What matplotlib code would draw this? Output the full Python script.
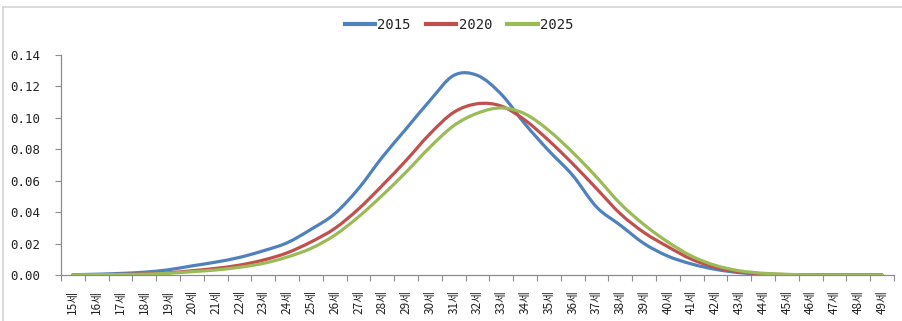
import numpy as np
import matplotlib
matplotlib.use("Agg")
import matplotlib.pyplot as plt
from matplotlib.path import Path
from matplotlib.patches import PathPatch
from matplotlib.lines import Line2D

# Age categories and density of births by mother's age
ages = list(range(15, 50))
age_labels = [f"{a}세" for a in ages]

y2015 = [0.0002, 0.0005, 0.0010, 0.0018, 0.0033, 0.0058, 0.0082, 0.0112, 0.0154, 0.0205,
         0.0290, 0.0390, 0.0550, 0.0750, 0.0930, 0.1110, 0.1270, 0.1270, 0.1150, 0.0960,
         0.0790, 0.0634, 0.0433, 0.0317, 0.0200, 0.0120, 0.0070, 0.0036, 0.0015, 0.0005,
         0.0002, 0.0001, 0.0000, 0.0000, 0.0000]
y2020 = [0.0001, 0.0002, 0.0004, 0.0007, 0.0014, 0.0027, 0.0042, 0.0063, 0.0095, 0.0141,
         0.0210, 0.0296, 0.0420, 0.0570, 0.0729, 0.0898, 0.1035, 0.1090, 0.1075, 0.0985,
         0.0855, 0.0708, 0.0550, 0.0390, 0.0270, 0.0180, 0.0100, 0.0049, 0.0020, 0.0008,
         0.0003, 0.0001, 0.0000, 0.0000, 0.0000]
y2025 = [0.0001, 0.0002, 0.0003, 0.0005, 0.0011, 0.0021, 0.0032, 0.0049, 0.0074, 0.0114,
         0.0169, 0.0253, 0.0370, 0.0507, 0.0655, 0.0813, 0.0950, 0.1030, 0.1063, 0.1025,
         0.0919, 0.0780, 0.0623, 0.0454, 0.0320, 0.0210, 0.0120, 0.0061, 0.0027, 0.0011,
         0.0004, 0.0001, 0.0000, 0.0000, 0.0000]

series = [("2015", y2015, "#4F81BD"), ("2020", y2020, "#C0504D"), ("2025", y2025, "#9BBB59")]

YFONT = ["DejaVu Sans Mono"]
XFONT = ["Noto Sans CJK KR", "DejaVu Sans"]
LFONT = ["DejaVu Sans Mono"]


def smooth_path(xs, ys):
    """Cubic Bezier path through the points (Catmull-Rom style smoothing)."""
    pts = np.column_stack([xs, ys]).astype(float)
    n = len(pts)
    verts = [pts[0]]
    codes = [Path.MOVETO]
    for i in range(n - 1):
        p0 = pts[max(i - 1, 0)]
        p1 = pts[i]
        p2 = pts[i + 1]
        p3 = pts[min(i + 2, n - 1)]
        c1 = p1 + (p2 - p0) / 6.0
        c2 = p2 - (p3 - p1) / 6.0
        verts += [c1, c2, p2]
        codes += [Path.CURVE4] * 3
    return Path(verts, codes)


fig = plt.figure(figsize=(9.03, 3.21), dpi=100)
ax = fig.add_axes([61 / 903, (321 - 275) / 321, (894 - 61) / 903, (275 - 55) / 321])

x = np.arange(len(ages))
for name, vals, col in series:
    patch = PathPatch(smooth_path(x, vals), facecolor="none", edgecolor=col,
                      lw=2.3, capstyle="round", joinstyle="round", zorder=3)
    ax.add_patch(patch)

ax.set_xlim(-0.5, len(ages) - 0.5)
ax.set_ylim(0, 0.14)

# y axis
yt = np.arange(0, 0.141, 0.02)
ax.set_yticks(yt)
ax.set_yticklabels([f"{v:.2f}" for v in yt], family=YFONT, fontsize=9, color="#222222")
ax.tick_params(axis="y", direction="out", length=4, width=0.8, color="#8c8c8c", pad=11)

# x axis: ticks at category boundaries, labels at category centres
ax.set_xticks(np.arange(-0.5, len(ages), 1.0))
ax.set_xticklabels([])
ax.set_xticks(x, minor=True)
ax.set_xticklabels(age_labels, minor=True, rotation=90, family=XFONT, fontsize=8.5,
                   color="#222222", va="top", ha="center")
ax.tick_params(axis="x", which="major", direction="out", length=4, width=0.8, color="#8c8c8c")
ax.tick_params(axis="x", which="minor", length=0, pad=11)

for s in ("top", "right"):
    ax.spines[s].set_visible(False)
for s in ("left", "bottom"):
    ax.spines[s].set_color("#8c8c8c")
    ax.spines[s].set_linewidth(0.9)

# legend
handles = [Line2D([0], [0], color=c, lw=3) for _, _, c in series]
leg = fig.legend(handles, [n for n, _, _ in series], loc="center", ncol=3,
                 bbox_to_anchor=(459 / 903, 1 - 25 / 321), frameon=False,
                 handlelength=2.2, handletextpad=0.15, columnspacing=1.1,
                 prop={"family": LFONT, "size": 10})
for t in leg.get_texts():
    t.set_color("#222222")

# chart area border
fig.add_artist(Line2D([3 / 903, 1.0], [1 - 7 / 321, 1 - 7 / 321], color="#d4d4d4", lw=1.2,
                      transform=fig.transFigure))
fig.add_artist(Line2D([3 / 903, 3 / 903], [0.0, 1 - 7 / 321], color="#d4d4d4", lw=1.2,
                      transform=fig.transFigure))

fig.savefig("out.png", dpi=100, facecolor="white")
